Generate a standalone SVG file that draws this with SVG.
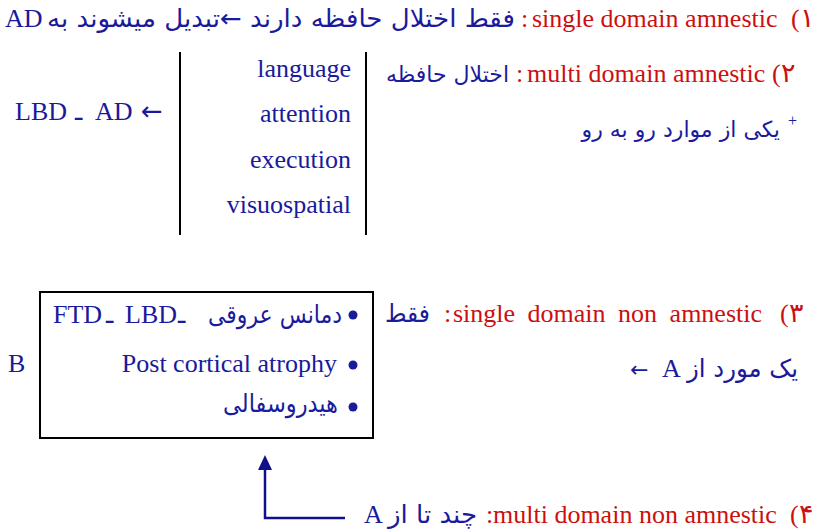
<svg xmlns="http://www.w3.org/2000/svg" width="818" height="532" viewBox="0 0 818 532">
<style>
.en{font-family:"Liberation Serif","DejaVu Serif",serif;font-size:26px;}
.fa{font-family:"DejaVu Sans",sans-serif;font-size:25px;}
.dg{font-family:"DejaVu Sans",sans-serif;font-size:27px;}
.ar{font-family:"DejaVu Sans",sans-serif;font-size:26px;}
.b{fill:#1a1a9c;}
.r{fill:#cc0f0f;}
.ln{stroke:#000;stroke-width:2;fill:none;}
.conn{stroke:#10108c;stroke-width:2.5;fill:none;}
</style>
<rect width="818" height="532" fill="#fff"/>

<g id="item1">
<text class="en r" x="791" y="27">(</text>
<text class="dg r" x="800" y="27">۱</text>
<text class="en r" x="532" y="27">single domain amnestic</text>
<text class="en r" x="521" y="27">:</text>
<text class="fa b" x="47" y="27" textLength="468" lengthAdjust="spacingAndGlyphs">فقط اختلال حافظه دارند ←تبدیل میشوند به</text>
<text class="en b" x="5" y="27">AD</text>
</g>

<g id="item2">
<text class="en r" x="772" y="82">(</text>
<text class="dg r" x="781" y="82">۲</text>
<text class="en r" x="527" y="82">multi domain amnestic</text>
<text class="en r" x="516" y="82">:</text>
<text class="fa b" x="509" y="82" text-anchor="end" style="font-size:22px">اختلال حافظه</text>
<text class="fa b" x="780" y="137" text-anchor="end" style="font-size:22px">یکی از موارد رو به رو</text>
<text class="en b" x="788" y="126" style="font-size:16px">+</text>
</g>

<g id="domains">
<line class="ln" x1="180" y1="52" x2="180" y2="235"/>
<line class="ln" x1="366" y1="52" x2="366" y2="235"/>
<text class="en b" x="351" y="77" text-anchor="end">language</text>
<text class="en b" x="351" y="122" text-anchor="end">attention</text>
<text class="en b" x="351" y="168" text-anchor="end">execution</text>
<text class="en b" x="351" y="213" text-anchor="end">visuospatial</text>
</g>

<g id="lbd-ad">
<text class="en b" x="15" y="120">LBD</text>
<text class="fa b" x="75" y="120">ـ</text>
<text class="en b" x="95" y="120">AD</text>
<text class="ar b" x="141" y="120">←</text>
</g>

<g id="item3">
<text class="en r" x="780" y="322">(</text>
<text class="dg r" x="789" y="322">۳</text>
<text class="en r" x="453" y="322" style="word-spacing:6px">single domain non amnestic</text>
<text class="en r" x="444" y="322">:</text>
<text class="fa b" x="385" y="322" textLength="45" lengthAdjust="spacingAndGlyphs">فقط</text>
<text class="fa b" x="687" y="377" textLength="111" lengthAdjust="spacingAndGlyphs">یک مورد از</text>
<text class="en b" x="662" y="377">A</text>
<text class="ar b" x="630" y="377" style="font-size:22px">←</text>
</g>

<g id="box-b">
<rect class="ln" x="40" y="292" width="333" height="146"/>
<text class="en b" x="8" y="372">B</text>
<circle class="b" cx="353" cy="315" r="4.5"/>
<circle class="b" cx="353" cy="365" r="4.5"/>
<circle class="b" cx="353" cy="407" r="4.5"/>
<text class="en b" x="53" y="323">FTD</text>
<text class="fa b" x="106" y="323">ـ</text>
<text class="en b" x="125" y="323">LBD</text>
<text class="fa b" x="178" y="323">ـ</text>
<text class="fa b" x="208" y="323" textLength="134" lengthAdjust="spacingAndGlyphs">دمانس عروقی</text>
<text class="en b" x="337" y="372" text-anchor="end">Post cortical atrophy</text>
<text class="fa b" x="223" y="412" textLength="115" lengthAdjust="spacingAndGlyphs">هیدروسفالی</text>
</g>

<g id="item4">
<text class="en r" x="790" y="523">(</text>
<text class="dg r" x="799" y="523">۴</text>
<text class="en r" x="493" y="523">multi domain non amnestic</text>
<text class="en r" x="486" y="523">:</text>
<text class="fa b" x="388" y="523" textLength="89" lengthAdjust="spacingAndGlyphs">چند تا از</text>
<text class="en b" x="364" y="523">A</text>
</g>

<g id="connectors">
<path class="conn" d="M345,518 L265,518 L265,470"/>
<path d="M265,455 L258,470 L272,470 Z" fill="#10108c"/>
</g>
</svg>
